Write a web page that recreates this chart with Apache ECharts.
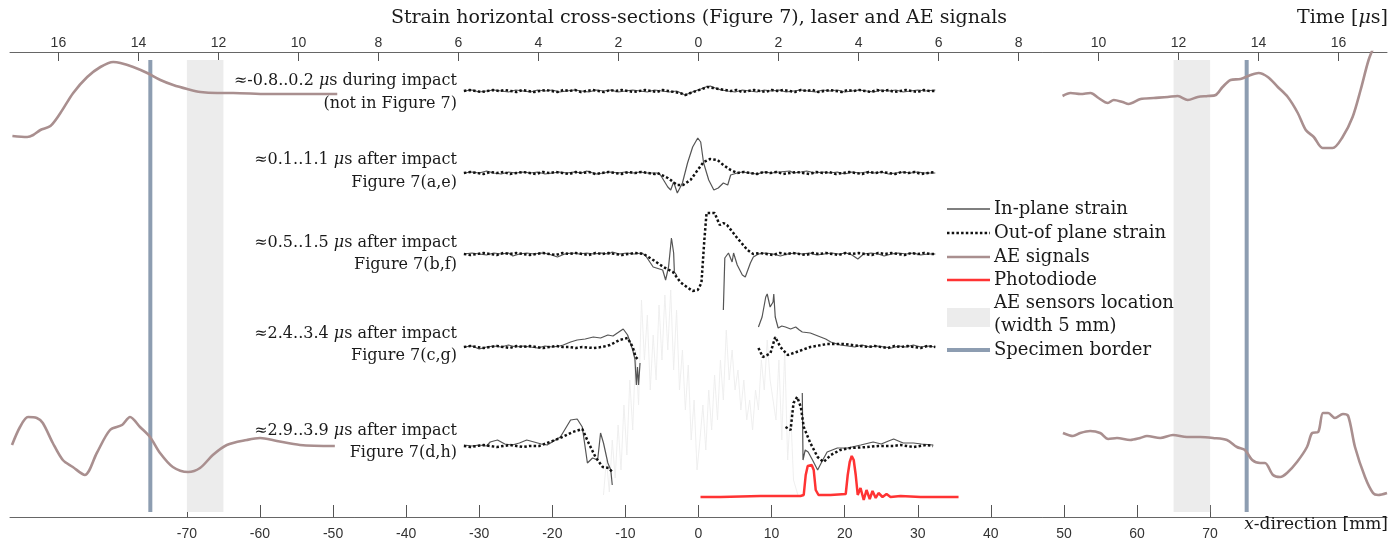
<!DOCTYPE html>
<html><head><meta charset="utf-8">
<script src="https://cdn.jsdelivr.net/npm/echarts@6/dist/echarts.min.js"></script>
<style>html,body{margin:0;padding:0;background:#fff}#c{width:1400px;height:541px}</style>
</head><body><div id="c"></div>
<script>
// ---------- axis ticks ----------
const mmTicks = [-70,-60,-50,-40,-30,-20,-10,0,10,20,30,40,50,60,70];
const timeTicks = [-16,-14,-12,-10,-8,-6,-4,-2,0,2,4,6,8,10,12,14,16];

// ---------- row labels ----------
const rowLabels1 = ['≈-0.8..0.2 {i|μ}s during impact','≈0.1..1.1 {i|μ}s after impact','≈0.5..1.5 {i|μ}s after impact','≈2.4..3.4 {i|μ}s after impact','≈2.9..3.9 {i|μ}s after impact'];
const rowLabels2 = ['(not in Figure 7)','Figure 7(a,e)','Figure 7(b,f)','Figure 7(c,g)','Figure 7(d,h)'];

// ---------- strain cross-sections: [x (mm), relative strain (a.u.)] ----------
const row1In = [[-32.1,0],[-31,1],[-30,-1],[-29,0],[-28,1],[-27,0],[-26,-1],[-25,1],[-24,0],[-23,-1],[-22,1],[-21,0],[-20,1],[-19,-1],[-18,0],[-17,1],[-16,0],[-15,-1],[-14,1],[-13,0],[-12,1],[-11,-1],[-10,0],[-9,1],[-8,0],[-7,-1],[-6,1],[-5,0],[-4,-1],[-3,0],[-2.4,-2],[-1.8,-4],[-1.2,-2],[-0.5,0],[0.3,2],[1,4],[1.6,5],[2.3,3],[3.1,1],[4,0],[5,-1],[6,1],[7,0],[8,-1],[9,1],[10,0],[11,1],[12,-1],[13,0],[14,1],[15,0],[16,-1],[17,1],[18,0],[19,1],[20,-1],[21,0],[22,1],[23,0],[24,-1],[25,1],[26,0],[27,1],[28,-1],[29,0],[30,1],[31,0],[32.4,1]];
const row1Out = [[-32.1,0],[-31.3,1],[-30.5,0],[-29.7,-1],[-28.9,0],[-28.1,1],[-27.3,0],[-26.5,1],[-25.7,0],[-24.9,-1],[-24.1,1],[-23.3,0],[-22.5,-1],[-21.7,0],[-20.9,1],[-20.1,0],[-19.3,-1],[-18.5,1],[-17.7,0],[-16.9,1],[-16.1,-1],[-15.3,0],[-14.5,1],[-13.7,0],[-12.9,-1],[-12.1,1],[-11.3,0],[-10.5,1],[-9.7,0],[-8.9,-1],[-8.1,0],[-7.3,1],[-6.5,0],[-5.7,-1],[-4.9,1],[-4.1,0],[-3.3,-1],[-2.5,-2],[-1.8,-4],[-1.1,-2],[-0.3,0],[0.5,2],[1.2,4],[2,3],[2.8,2],[3.6,1],[4.4,0],[5.2,1],[6,-1],[6.8,0],[7.6,1],[8.4,0],[9.2,-1],[10,1],[10.8,0],[11.6,1],[12.4,0],[13.2,-1],[14,1],[14.8,0],[15.6,1],[16.4,-1],[17.2,0],[18,1],[18.8,0],[19.6,-1],[20.4,1],[21.2,0],[22,1],[22.8,0],[23.6,-1],[24.4,1],[25.2,0],[26,1],[26.8,-1],[27.6,0],[28.4,1],[29.2,0],[30,-1],[30.8,1],[31.6,0],[32.4,0]];

const row2In = [[-32.1,0],[-31,1],[-30,0],[-29,2],[-28,0],[-27,-1],[-26,1],[-25,0],[-24,1],[-23,0],[-22,1],[-21,-1],[-20,0],[-19,1],[-18,0],[-17,1],[-16,0],[-15.3,2],[-14,-1],[-13,0],[-12,1],[-11,0],[-10,1],[-9,0],[-8,1],[-7,0],[-6,0],[-5.6,0],[-5.2,-2],[-4.2,-14],[-3.8,-17],[-3.4,-9],[-2.9,-20],[-2.2,-10],[-1.5,10],[-0.8,26],[-0.1,35],[0.3,31],[0.7,10],[1.4,-7],[2.1,-17],[2.7,-15],[3.4,-10],[4.0,-12],[4.4,-2],[5.3,0],[6,1],[7,0],[8,-1],[9,1],[10,0],[11,1],[12.5,2],[13,0],[14,1],[14.8,2],[16,0],[17,1],[18,0],[19,1],[20,-1],[21,1],[22,0],[23,1],[24,0],[25,1],[26,-1],[27,0],[28,1],[29,0],[30,1],[31,0],[32.4,0]];
const row2Out = [[-32.1,0],[-31.2,1],[-30.3,0],[-29.4,-1],[-28.5,1],[-27.6,0],[-26.7,1],[-25.8,-1],[-24.9,0],[-24,1],[-23.1,0],[-22.2,-1],[-21.3,1],[-20.4,0],[-19.5,1],[-18.6,0],[-17.7,-1],[-16.8,1],[-15.9,0],[-15,1],[-14.1,-1],[-13.2,0],[-12.3,1],[-11.4,0],[-10.5,-1],[-9.6,1],[-8.7,0],[-7.8,1],[-6.9,0],[-6,-1],[-5.6,0],[-4.2,-5],[-2.9,-12],[-2.1,-12],[-1.1,-7],[-0.1,3],[0.7,11],[1.6,14],[2.6,13],[3.4,8],[4.4,3],[5.3,0],[6.2,1],[7.1,0],[8,-1],[8.9,1],[9.8,0],[10.7,1],[11.6,-1],[12.5,0],[13.4,1],[14.3,0],[15.2,-1],[16.1,1],[17,0],[17.9,1],[18.8,-1],[19.7,0],[20.6,1],[21.5,0],[22.4,-1],[23.3,1],[24.2,0],[25.1,1],[26,0],[26.9,-1],[27.8,1],[28.7,0],[29.6,1],[30.5,-1],[31.4,0],[32.4,1]];

const row3In = [[-32.1,0],[-31,1],[-30,0],[-29,-1],[-28,1],[-27,0],[-26,1],[-25.4,-2],[-24.5,0],[-23.5,1],[-22.5,0],[-21.5,1],[-20.5,0],[-19.3,-3],[-18.3,0],[-17.3,1],[-16.3,0],[-15.3,1],[-14.3,0],[-13.3,1],[-12.3,0],[-11.8,2],[-10.8,0],[-9.8,1],[-8.8,0],[-7.8,1],[-7.3,-1],[-6.2,-13],[-4.9,-16],[-4.5,-26],[-4.1,-13],[-3.7,16],[-3.4,1],[-3.3,-18],[-3.0,-21],[0,null],[3.4,-56],[3.6,-4],[4.1,1],[4.6,-8],[4.8,1],[5.3,-11],[6.0,-21],[6.4,-23],[7.1,-9],[7.5,-3],[8.2,0],[9.2,1],[10.2,0],[11.2,-2],[12.2,0],[13.2,1],[14.2,0],[15.2,1],[16.2,-1],[17.2,0],[18.2,1],[19.2,0],[20.2,1],[21,-1],[21.8,-5],[22.6,0],[23.6,1],[24.6,0],[25.4,-2],[26.4,0],[27.4,1],[28.4,0],[29.4,1],[30.4,-1],[31.4,0],[32.4,0]];
const row3Out = [[-32.1,0],[-31.2,-1],[-30.3,0],[-29.4,1],[-28.5,0],[-27.6,-1],[-26.7,1],[-25.8,0],[-24.9,1],[-24,0],[-23.1,-1],[-22.2,0],[-21.3,1],[-20.4,0],[-19.5,-1],[-18.6,1],[-17.7,0],[-16.8,1],[-15.9,0],[-15,-1],[-14.1,1],[-13.2,0],[-12.3,1],[-11.4,0],[-10.5,-1],[-9.6,0],[-8.7,1],[-7.5,0],[-6.2,-6],[-4.8,-13],[-3.5,-18],[-2.5,-28],[-1.6,-33],[-0.8,-37],[-0.1,-36],[0.4,-29],[0.8,14],[1.1,41],[2.2,41],[2.9,29],[3.4,31],[3.9,29],[5.3,16],[6.7,4],[7.5,0],[8.4,1],[9.3,0],[10.2,-1],[11.1,1],[12,0],[12.9,1],[13.8,0],[14.7,-1],[15.6,1],[16.5,0],[17.4,1],[18.3,0],[19.2,-1],[20.1,1],[21,0],[21.9,1],[22.8,0],[23.7,-1],[24.6,1],[25.5,0],[26.4,1],[27.3,0],[28.2,-1],[29.1,1],[30,0],[30.9,1],[31.8,0],[32.4,0]];

const row4In = [[-32.1,0],[-31,1],[-30,-2],[-29,0],[-28,1],[-27,0],[-26,2],[-25,0],[-24,1],[-23,0],[-22,-1],[-21,1],[-20,0],[-19,1],[-18.5,2],[-17.5,5],[-16.6,7],[-15.5,8],[-14.4,10],[-13.4,9],[-12.4,12],[-11.7,11],[-11.1,14],[-10.3,18],[-9.7,12],[-9.0,-3],[-8.7,-12],[-8.5,-38],[-8.35,-20],[-8.2,-38],[-8.0,-16],[0,null],[8.2,20],[8.7,30],[9.2,50],[9.4,53],[9.8,40],[10.2,45],[10.3,53],[10.5,30],[10.9,19],[11.4,21],[11.9,20],[12.6,18],[13.3,20],[13.8,17],[14.2,15],[15.3,14],[16.0,12],[16.7,10],[17.4,8],[18.1,5],[19.4,2],[20.4,1],[21.4,0],[22.4,2],[23.4,0],[24.4,1],[25.4,0],[26.4,-1],[27.4,1],[28.4,0],[29.4,2],[30.4,0],[31.4,1],[32.4,0]];
const row4Out = [[-32.1,0],[-31.2,1],[-30.3,0],[-29.4,-1],[-28.5,0],[-27.6,1],[-26.7,0],[-25.8,-1],[-24.9,1],[-24,0],[-23.1,1],[-22.2,0],[-21.3,-1],[-20.4,0],[-19.5,1],[-18.6,0],[-17.7,0],[-16.8,-1],[-15.9,0],[-14.4,-1],[-13.2,0],[-12.1,2],[-10.8,7],[-9.7,9],[-9.0,0],[-8.6,-10],[-8.2,-13],[0,null],[8.2,-1],[8.8,-10],[9.4,-8],[9.85,-6],[10.5,10],[11.2,0],[12.2,-8],[13.4,-5],[15.3,0],[17.6,3],[19.8,3],[22.2,1],[23.2,0],[24.1,1],[25,0],[25.9,-1],[26.8,1],[27.7,0],[28.6,1],[29.5,0],[30.4,-1],[31.3,1],[32.4,0]];

const row5In = [[-32.1,1],[-31,0],[-30,1],[-29,0],[-28.5,4],[-27.5,6],[-26.5,2],[-25.5,1],[-24.5,3],[-23.5,6],[-22.5,4],[-21.5,2],[-20.7,1],[-18.9,9],[-17.5,26],[-16.6,27],[-15.9,19],[-15.2,-17],[-14.5,-12],[-13.8,-14],[-13.4,13],[-13.0,3],[-12.4,-17],[-12.0,-24],[-11.8,-39],[0,null],[14.2,53],[14.3,-14],[14.6,-4],[15.0,-6],[15.6,-14],[16.3,-24],[17.0,-14],[17.6,-6],[19.0,-2],[20.4,-2],[22.2,1],[23.9,4],[25,2],[26,5],[26.7,7],[28,3],[29.4,3],[30.5,2],[32.1,1]];
const row5Out = [[-32.1,0],[-31.2,-1],[-30.3,0],[-29.4,1],[-28.5,0],[-27.6,-1],[-26.7,0],[-25.8,1],[-24.9,0],[-24,-1],[-23.1,0],[-21.8,0],[-18.9,8],[-17.2,14],[-15.9,17],[-15.1,4],[-14.1,-11],[-13.1,-21],[-12.3,-22],[-11.8,-26],[0,null],[11.9,19],[12.6,16],[13.0,43],[13.5,49],[14.0,39],[14.4,19],[15.3,3],[16.3,-11],[17.1,-16],[18.1,-9],[19.4,-4],[20.8,-2],[23.1,-1],[24.6,0],[26.7,0],[27.6,1],[28.5,0],[29.4,-1],[30.3,0],[31.2,1],[32.1,0]];

// faint raw signal behind the lower rows: [x (mm), a.u.]
const faintRaw = [[-13.0,5],[-12.6,40],[-12.2,8],[-11.8,60],[-11.4,22],[-11.0,75],[-10.6,30],[-10.2,95],[-9.8,45],[-9.4,120],[-9.0,70],[-8.6,150],[-8.2,95],[-7.8,200],[-7.4,140],[-7.0,185],[-6.6,110],[-6.2,165],[-5.8,120],[-5.4,195],[-5.0,140],[-4.6,205],[-4.2,150],[-3.8,210],[-3.4,130],[-3.0,190],[-2.6,110],[-2.2,150],[-1.8,90],[-1.4,135],[-1.0,60],[-0.6,100],[-0.2,30],[0.2,60],[0.6,95],[1.0,50],[1.4,110],[1.8,70],[2.2,125],[2.6,80],[3.0,140],[3.4,100],[3.8,170],[4.2,120],[4.6,150],[5.0,110],[5.4,130],[5.8,90],[6.2,120],[6.6,80],[7.0,100],[7.4,70],[7.8,110],[8.2,90],[8.6,140],[9.0,110],[9.4,160],[9.8,120],[10.2,100],[10.6,80],[11.0,140],[11.4,60],[11.8,150],[12.2,40],[12.6,90],[13.0,20],[13.6,5]];

// ---------- AE signals: [time (μs from impact), a.u.] ----------
const aeLeftTop = [[17.15,-42],[16.78,-43],[16.63,-41],[16.45,-36],[16.2,-32],[15.95,-19],[15.63,1],[15.28,17],[14.95,27],[14.63,32],[14.45,31],[14.13,27],[13.78,21],[13.45,14],[13.13,9],[12.78,5],[12.45,2],[12.03,1],[11.63,1],[10.78,0],[9.95,0],[9.03,0]];
const aeRightTop = [[9.1,-2],[9.3,1],[9.55,0],[9.8,1],[10.0,-4],[10.23,-9],[10.38,-6],[10.6,-8],[10.75,-10],[11.05,-5],[11.38,-4],[11.73,-3],[11.98,-2],[12.23,-6],[12.48,-3],[12.73,-2],[12.93,-1],[13.1,7],[13.3,14],[13.55,15],[13.8,19],[14.0,21],[14.23,17],[14.48,7],[14.73,-3],[14.98,-19],[15.18,-36],[15.38,-43],[15.6,-54],[15.85,-54],[16.1,-43],[16.35,-23],[16.55,4],[16.75,34],[16.9,49]];
const aeLeftBottom = [[17.16,1],[16.96,19],[16.76,29],[16.54,28],[16.39,23],[16.14,3],[15.89,-14],[15.64,-21],[15.34,-29],[15.04,-7],[14.71,16],[14.41,21],[14.21,29],[13.96,19],[13.71,9],[13.46,-7],[13.14,-21],[12.76,-26],[12.46,-22],[12.14,-9],[11.79,1],[11.29,6],[10.96,8],[10.54,5],[9.96,1],[9.09,0]];
const aeRightBottom = [[9.11,13],[9.36,10],[9.54,13],[9.79,15],[10.04,13],[10.24,7],[10.46,8],[10.79,6],[11.04,8],[11.21,10],[11.54,8],[11.86,11],[12.21,9],[12.54,9],[12.86,8],[13.21,6],[13.46,-1],[13.66,-4],[13.84,-14],[14.04,-17],[14.16,-17],[14.36,-29],[14.54,-31],[14.71,-27],[14.96,-16],[15.21,-1],[15.34,13],[15.49,14],[15.61,33],[15.74,33],[15.91,28],[16.11,32],[16.24,30],[16.41,-1],[16.66,-31],[16.86,-47],[16.99,-49],[17.21,-47]];

// ---------- photodiode: [time (μs), a.u.] ----------
const photodiode = [[0.05,0],[0.55,0],[1.55,1],[2.55,1],[2.63,2],[2.68,22],[2.73,31],[2.83,32],[2.88,27],[2.93,7],[3.0,2],[3.3,2],[3.68,3],[3.73,22],[3.78,35],[3.83,41],[3.88,37],[3.93,22],[3.98,2],[4.05,9],[4.13,-3],[4.2,7],[4.28,-2],[4.35,6],[4.43,-1],[4.5,4],[4.6,0],[4.7,3],[4.8,0],[5.05,1],[5.55,0],[6.05,0],[6.5,0]];

// ---------- specimen geometry (mm) ----------
const sensorBands = [[-70,-65],[65,70]];
const specimenBorders = [-75, 75];

// ---------- layout (vertical offsets of the stacked rows, a.u.) ----------
const rowBase = [426, 344, 263, 170, 71];
const aeBase = [423, 71];
const photoBase = 20;
const faintBase = 17;
const markSpan = [5, 457];

const C_IN = '#555555', C_OUT = '#111111', C_AE = '#a98f8f', C_PD = '#ff3333', C_BAND = '#ececec', C_BORDER = '#8d9db1';
const SERIF = '"DejaVu Serif", serif';
const SANS = '"Liberation Sans", Arial, sans-serif';

function shift(arr, off, sign) {
  return arr.map(p => [sign * p[0], p[1] == null ? null : p[1] + off]);
}
function lineSeries(name, data, axis, style, z, smooth) {
  return {name, type:'line', xAxisIndex: axis, yAxisIndex:0, data, showSymbol:false, symbol:'none', smooth: smooth || false,
          connectNulls:false, clip:true, animation:false, silent:true, z: z || 2, lineStyle: style};
}

const series = [];
series.push({type:'line', xAxisIndex:0, data:[], silent:true, z:0,
  markArea:{silent:true, itemStyle:{color:C_BAND}, data: sensorBands.map(b => [{xAxis:b[0], yAxis:markSpan[0]}, {xAxis:b[1], yAxis:markSpan[1]}])}});
series.push(lineSeries('raw', shift(faintRaw, faintBase, 1), 0, {color:'#ededed', width:0.9}, 1));
specimenBorders.forEach(b => series.push(lineSeries('border', [[b, markSpan[0]], [b, markSpan[1]]], 0, {color:C_BORDER, width:4}, 2)));
[[aeLeftTop, 0, -1], [aeRightTop, 0, 1], [aeLeftBottom, 1, -1], [aeRightBottom, 1, 1]].forEach(a => {
  series.push(lineSeries('AE', shift(a[0], aeBase[a[1]], a[2]), 1, {color:C_AE, width:2.6}, 3, 0.3));
});
series.push(lineSeries('Photodiode', shift(photodiode, photoBase, 1), 1, {color:C_PD, width:2.5}, 4));
const ins = [row1In, row2In, row3In, row4In, row5In];
const outs = [row1Out, row2Out, row3Out, row4Out, row5Out];
for (let i = 0; i < 5; i++) {
  series.push(lineSeries('In-plane strain', shift(ins[i], rowBase[i], 1), 0, {color:C_IN, width:1.2}, 5));
  series.push(lineSeries('Out-of plane strain', shift(outs[i], rowBase[i], 1), 0, {color:C_OUT, width:2.5, type:[2.5,2.2], cap:'butt'}, 6));
}

const graphic = [];
const italicRich = (fs) => ({i:{fontStyle:'italic', fontFamily:SERIF, fontSize:fs, fill:'#1a1a1a'}});
const T = (x, y, text, opts) => Object.assign({type:'text', x, y, silent:true, z:100,
  style: Object.assign({text, fill:'#1a1a1a', fontFamily:SERIF, fontSize:16, align:'left', verticalAlign:'middle'}, opts || {})});
graphic.push(T(699, 18, 'Strain horizontal cross-sections (Figure 7), laser and AE signals', {align:'center', fontSize:19}));
graphic.push(T(1388, 18, 'Time [{i|μ}s]', {align:'right', fontSize:19, rich:italicRich(19)}));
graphic.push(T(1388, 525, '{i|x}-direction [mm]', {align:'right', fontSize:17, rich:italicRich(17)}));
const labelY1 = [81, 160, 243, 334, 431];
const labelY2 = [104, 183, 265, 356, 453];
for (let i = 0; i < 5; i++) {
  graphic.push(T(457, labelY1[i], rowLabels1[i], {align:'right', rich:italicRich(16)}));
  graphic.push(T(457, labelY2[i], rowLabels2[i], {align:'right'}));
}
const lgX1 = 947, lgX2 = 990, lgTx = 994, LF = 18;
const legendItems = [
  {y:209, text:'In-plane strain', style:{stroke:C_IN, lineWidth:1.5}},
  {y:233, text:'Out-of plane strain', style:{stroke:C_OUT, lineWidth:2.5, lineDash:[2.5,2.2]}},
  {y:257, text:'AE signals', style:{stroke:C_AE, lineWidth:2.5}},
  {y:280, text:'Photodiode', style:{stroke:C_PD, lineWidth:2.5}},
  {y:350, text:'Specimen border', style:{stroke:C_BORDER, lineWidth:4}}
];
legendItems.forEach(it => {
  graphic.push({type:'line', silent:true, z:100, shape:{x1:lgX1, y1:it.y, x2:lgX2, y2:it.y}, style:it.style});
  graphic.push(T(lgTx, it.y, it.text, {fontSize:LF}));
});
graphic.push({type:'rect', silent:true, z:100, shape:{x:lgX1, y:308, width:lgX2-lgX1, height:19}, style:{fill:C_BAND}});
graphic.push(T(lgTx, 303, 'AE sensors location', {fontSize:LF}));
graphic.push(T(lgTx, 326, '(width 5 mm)', {fontSize:LF}));

const chart = echarts.init(document.getElementById('c'), null, {renderer:'canvas'});
chart.setOption({
  animation:false,
  backgroundColor:'#fff',
  grid:{left:10, right:13, top:52, bottom:24, containLabel:false},
  xAxis:[
    {type:'value', position:'bottom', min:-94.2, max:94.2,
     axisLine:{show:true, onZero:false, lineStyle:{color:'#666', width:1}},
     axisTick:{show:true, inside:true, length:12, customValues:mmTicks, lineStyle:{color:'#555', width:1}},
     axisLabel:{show:true, customValues:mmTicks, margin:10, fontSize:14, fontFamily:SANS, color:'#333', formatter:v => String(v)},
     splitLine:{show:false}},
    {type:'value', position:'top', min:-17.21, max:17.21,
     axisLine:{show:true, onZero:false, lineStyle:{color:'#666', width:1}},
     axisTick:{show:true, inside:true, length:9, customValues:timeTicks, lineStyle:{color:'#555', width:1}},
     axisLabel:{show:true, customValues:timeTicks, margin:2, fontSize:14, fontFamily:SANS, color:'#333', formatter:v => String(Math.abs(v))},
     splitLine:{show:false}}
  ],
  yAxis:[{type:'value', min:0, max:465, show:false, splitLine:{show:false}}],
  series,
  graphic
});
</script></body></html>
